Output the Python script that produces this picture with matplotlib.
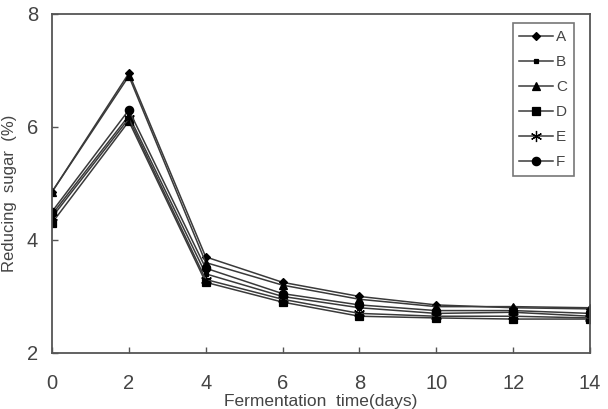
import matplotlib
matplotlib.use("Agg")
import matplotlib.pyplot as plt

plt.rcParams['font.family'] = ['Liberation Sans', 'DejaVu Sans']

days = [0, 2, 4, 6, 8, 10, 12, 14]
series_names = ['A', 'B', 'C', 'D', 'E', 'F']
A = [4.85, 6.95, 3.70, 3.25, 3.00, 2.85, 2.80, 2.78]
B = [4.45, 6.20, 3.40, 3.00, 2.80, 2.70, 2.72, 2.65]
C = [4.85, 6.90, 3.60, 3.20, 2.95, 2.82, 2.82, 2.80]
D = [4.30, 6.10, 3.25, 2.90, 2.65, 2.62, 2.60, 2.60]
E = [4.40, 6.15, 3.30, 2.95, 2.70, 2.65, 2.65, 2.62]
F = [4.50, 6.30, 3.50, 3.05, 2.85, 2.75, 2.75, 2.70]
values = [A, B, C, D, E, F]
xticks = [0, 2, 4, 6, 8, 10, 12, 14]
yticks = [2, 4, 6, 8]

markers = {'A': ('D', 4.5), 'B': ('s', 3.5), 'C': ('^', 6), 'D': ('s', 5.5),
           'E': ((6, 2, 0), 8), 'F': ('o', 6)}

fig = plt.figure(figsize=(6.08, 4.09), dpi=100)
ax = fig.add_axes([0.0855, 0.137, 0.885, 0.829])

for name, vals in zip(series_names, values):
    m, s = markers[name]
    ax.plot(days, vals, color='#3a3a3a', lw=1.1, marker=m, markersize=s,
            markerfacecolor='black', markeredgecolor='black', markeredgewidth=0.9,
            label=name)

ax.set_xlim(0, 14)
ax.set_ylim(2, 8)
ax.set_xticks(xticks)
ax.set_yticks(yticks)
ax.tick_params(direction='in', length=4, width=1, colors='#555555',
               labelsize=14.5, labelcolor='#444444')
ax.tick_params(axis='x', pad=15)
ax.tick_params(axis='y', pad=10)
for sp in ax.spines.values():
    sp.set_color('#555555')
    sp.set_linewidth(1.3)

ax.set_xlabel('Fermentation  time(days)', fontsize=12.5, color='#444444', labelpad=1)
ax.set_ylabel('Reducing  sugar  (%)', fontsize=12, color='#444444')
ax.yaxis.set_label_coords(-0.065, 0.47)

leg = ax.legend(loc='upper right', bbox_to_anchor=(0.97, 0.973), fontsize=11,
                frameon=True, fancybox=False, handlelength=2.2, handletextpad=0.2,
                labelspacing=0.72, borderpad=0.45, borderaxespad=0)
leg.get_frame().set_edgecolor('#555555')
leg.get_frame().set_linewidth(1.2)
for t in leg.get_texts():
    t.set_color('#444444')

fig.savefig('out.png', dpi=100)
